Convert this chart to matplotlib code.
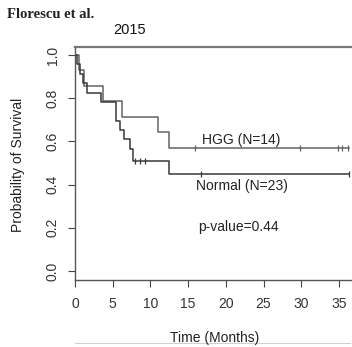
import numpy as np
import matplotlib
matplotlib.use('Agg')
import matplotlib.pyplot as plt
from matplotlib.lines import Line2D

# Kaplan-Meier steps
hgg_time = [0, 0.5, 1.2, 3.7, 6.2, 11.0, 12.5]
hgg_surv = [1.0, 0.929, 0.857, 0.786, 0.714, 0.643, 0.571]
hgg_end = 36.3
hgg_cens = [15.9, 29.9, 34.9, 35.4, 36.2]

norm_time = [0, 0.3, 0.7, 1.0, 1.6, 3.5, 5.5, 6.0, 6.5, 7.3, 7.7, 12.5]
norm_surv = [1.0, 0.957, 0.913, 0.870, 0.826, 0.783, 0.696, 0.652, 0.609, 0.565, 0.507, 0.447]
norm_end = 36.3
norm_cens = [8.0, 8.6, 9.3, 16.7, 36.3]

xticks = [0, 5, 10, 15, 20, 25, 30, 35]
yticks = [0.0, 0.2, 0.4, 0.6, 0.8, 1.0]

plt.rcParams['font.family'] = ['Liberation Sans', 'DejaVu Sans']

W, H = 352, 347
fig = plt.figure(figsize=(W / 100, H / 100), dpi=100)
ax = fig.add_axes([75 / W, 67 / H, 290 / W, 233 / H])


def km(ax, t, s, end, cens, color):
    t = np.array(t + [end])
    s = np.array(s + [s[-1]])
    ax.plot(t, s, drawstyle='steps-post', color=color, lw=1.1)
    idx = np.searchsorted(t, cens, side='right') - 1
    ax.plot(cens, s[idx], ls='none', marker='|', ms=5, mew=0.9, color=color)


km(ax, hgg_time, hgg_surv, hgg_end, hgg_cens, '#636363')
km(ax, norm_time, norm_surv, norm_end, norm_cens, '#383838')

ax.set_xlim(0, 290 / 7.54)
ax.set_ylim(-9 / 216, 1 + 8 / 216)
ax.set_xticks(xticks)
ax.set_xticklabels([str(v) for v in xticks])
ax.set_yticks(yticks)
ax.set_yticklabels(['%.1f' % v for v in yticks])
ax.tick_params(direction='out', length=5, width=0.8, color='#444444',
               labelsize=10, labelcolor='#333333')
ax.tick_params(axis='x', pad=7)
ax.tick_params(axis='y', labelrotation=90, pad=6)
for lab in ax.get_yticklabels():
    lab.set_va('center')
for sp in ax.spines.values():
    sp.set_color('#555555')
    sp.set_linewidth(1.0)
ax.spines['top'].set_linewidth(1.6)
ax.spines['top'].set_color('#777777')

ax.text(16.9, 0.606, 'HGG (N=14)', ha='left', va='center', fontsize=10, color='#222222')
ax.text(16.1, 0.394, 'Normal (N=23)', ha='left', va='center', fontsize=10, color='#222222')
ax.text(16.3, 0.205, 'p-value=0.44', ha='left', va='center', fontsize=10, color='#222222')

fig.text(18 / W, 1 - 165 / H, 'Probability of Survival', rotation=90,
         ha='center', va='center', fontsize=10, color='#222222')
fig.text(215 / W, 1 - 338 / H, 'Time (Months)', ha='center', va='center',
         fontsize=10, color='#222222')
fig.text(7 / W, 1 - 15 / H, 'Florescu et al.', ha='left', va='center',
         fontsize=10.5, fontweight='bold', family='Liberation Serif', color='#222222')
fig.text(130 / W, 1 - 30 / H, '2015', ha='center', va='center', fontsize=10.5, color='#111111')

fig.add_artist(Line2D([75 / W, 350 / W], [1 - 343 / H, 1 - 343 / H],
                      color='#d0d0d0', lw=0.8))

fig.savefig('out.png', dpi=100)
